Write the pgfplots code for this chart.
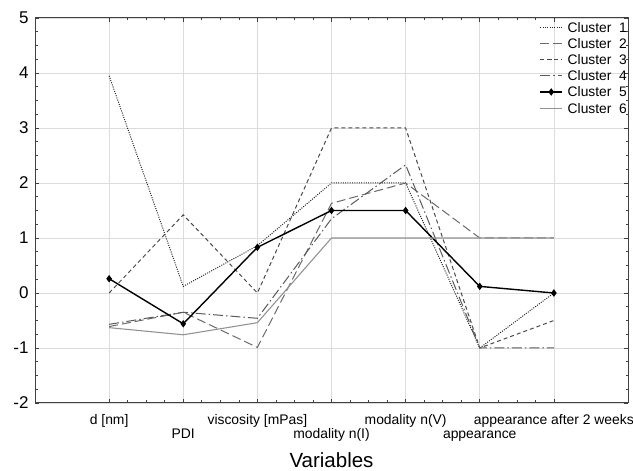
\documentclass[border=0pt]{standalone}
\usepackage{fontspec}
\setmainfont{Liberation Sans}
\usepackage{pgfplots}
\pgfplotsset{compat=1.18}

\definecolor{cone}{HTML}{262626}
\definecolor{ctwo}{HTML}{6A6A6A}
\definecolor{cthree}{HTML}{4A4A4A}
\definecolor{cfour}{HTML}{5A5A5A}
\definecolor{csix}{HTML}{939393}
\definecolor{gridgray}{HTML}{DCDCDC}

\begin{document}
\begin{tikzpicture}
\begin{axis}[
  scale only axis,
  width=593pt, height=385pt,
  xmin=0, xmax=8, ymin=-2, ymax=5,
  xtick={1,2,3,4,5,6,7},
  xticklabels={
    \strut d [nm],
    \strut\\PDI,
    \strut viscosity [mPas],
    \strut\\modality n(I),
    \strut modality n(V),
    \strut\\appearance,
    \strut appearance after 2 weeks},
  ytick={-2,-1,0,1,2,3,4,5},
  minor x tick num=3, minor y tick num=3,
  tick pos=both, tick align=inside,
  major tick length=4pt, minor tick length=2.5pt,
  grid=major,
  major grid style={gridgray, line width=0.6pt},
  axis line style={black!75, line width=1pt},
  every tick/.style={black!75, line width=0.6pt},
  /pgf/number format/assume math mode=true,
  xticklabel style={font=\fontsize{13.9}{14.5}\selectfont, align=center, yshift=-7.5pt},
  yticklabel style={font=\fontsize{17}{18}\selectfont, xshift=-3pt},
  xlabel={Variables},
  xlabel style={font=\fontsize{20.5}{22}\selectfont, at={(axis description cs:0.5,0)}, anchor=center, yshift=-57pt},
  legend style={draw=none, fill=none, at={(1,1)}, anchor=north east, yshift=-3pt,
    inner sep=0pt, row sep=4.2pt,
    font=\fontsize{13.8}{14}\selectfont,
    nodes={inner sep=1pt, text height=10pt, text depth=0pt},
    /tikz/every odd column/.append style={column sep=4pt}},
  legend cell align=left,
  legend image code/.code={\draw[mark repeat=2,mark phase=2,#1] plot coordinates {(0cm,0cm) (0.38cm,0cm) (0.76cm,0cm)};},
]
\addplot[cone, line width=1pt, dash pattern=on 1pt off 1.3pt] coordinates {
  (1,3.95) (2,0.12) (3,0.86) (4,2.0) (5,2.0) (6,-1.0) (7,0.0)};
\addplot[ctwo, line width=1pt, dash pattern=on 9pt off 4pt] coordinates {
  (1,-0.61) (2,-0.35) (3,-0.99) (4,1.63) (5,2.0) (6,1.0) (7,1.0)};
\addplot[cthree, line width=1pt, dash pattern=on 4pt off 3pt] coordinates {
  (1,0.0) (2,1.42) (3,0.0) (4,3.0) (5,3.0) (6,-1.0) (7,-0.5)};
\addplot[cfour, line width=1pt, dash pattern=on 10pt off 3pt on 1.5pt off 3pt] coordinates {
  (1,-0.57) (2,-0.35) (3,-0.46) (4,1.35) (5,2.33) (6,-1.0) (7,-1.0)};
\addplot[black, line width=1.4pt, mark=diamond*, mark size=2.6pt, mark options={solid}] coordinates {
  (1,0.26) (2,-0.56) (3,0.83) (4,1.5) (5,1.5) (6,0.12) (7,0.0)};
\addplot[csix, line width=1.1pt] coordinates {
  (1,-0.63) (2,-0.76) (3,-0.54) (4,1.0) (5,1.0) (6,1.0) (7,1.0)};
\legend{Cluster\ \ 1, Cluster\ \ 2, Cluster\ \ 3, Cluster\ \ 4, Cluster\ \ 5, Cluster\ \ 6}
\end{axis}
\pgfresetboundingbox
\path ([shift={(-35pt,-68pt)}]current axis.south west) rectangle ([shift={(5pt,18pt)}]current axis.north east);
\end{tikzpicture}
\end{document}
